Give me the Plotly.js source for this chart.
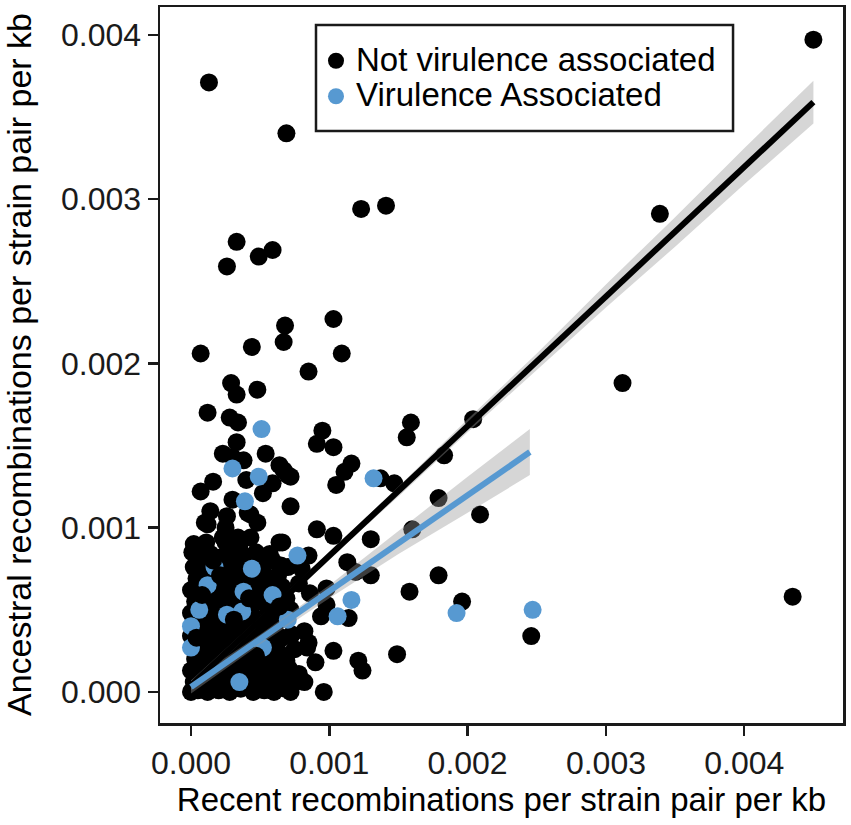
<!DOCTYPE html>
<html>
<head>
<meta charset="utf-8">
<script src="https://cdn.plot.ly/plotly-3.0.1.min.js"></script>
<style>
  html, body { margin: 0; padding: 0; background: #fff; }
  #graph { width: 851px; height: 825px; }
</style>
</head>
<body>
<div id="graph"></div>
<script>
// Points: [recent, ancestral] per strain pair per kb

// not virulence associated, scattered points
const notVirSparse = [
  [0.0045, 0.00397], [0.00013, 0.00371], [0.00069, 0.00340], [0.00123, 0.00294],
  [0.00141, 0.00296], [0.00033, 0.00274], [0.00059, 0.00269], [0.00049, 0.00265],
  [0.00026, 0.00259], [0.00103, 0.00227], [0.00068, 0.00223], [0.00067, 0.00213],
  [0.00007, 0.00206], [0.00044, 0.00210], [0.00109, 0.00206], [0.00085, 0.00195],
  [0.00029, 0.00188], [0.00048, 0.00184], [0.00339, 0.00291], [0.00312, 0.00188],
  [0.00435, 0.00058], [0.00246, 0.00034], [0.00196, 0.00055], [0.00209, 0.00108],
  [0.00204, 0.00166], [0.00183, 0.00144], [0.00179, 0.00071], [0.00158, 0.00061],
  [0.00149, 0.00023], [0.00159, 0.00164], [0.00156, 0.00155], [0.0016, 0.00099],
  [0.00095, 0.00159], [0.00091, 0.00151], [0.00103, 0.00149], [0.00116, 0.00139],
  [0.00111, 0.00134], [0.00105, 0.00126], [0.00137, 0.00130], [0.00147, 0.00127],
  [0.00179, 0.00118], [0.00072, 0.00113], [0.00067, 0.00135], [0.00072, 0.00131],
  [0.00091, 0.00099], [0.00103, 0.00095], [0.0013, 0.00093], [0.00085, 0.00083],
  [0.00113, 0.00079], [0.00119, 0.00073], [0.0013, 0.00071], [0.00098, 0.00063],
  [0.00098, 0.00053], [0.00094, 0.00046], [0.00114, 0.00045], [0.00103, 0.00025],
  [0.0009, 0.00018], [0.00121, 0.00019], [0.00124, 0.00013], [0.00082, 0.00006],
  [0.00096, 0.0], [0.00082, 0.00037], [0.00084, 0.00027], [0.00072, 0.0],
  [0.00033, 0.00181], [0.00012, 0.0017], [0.00028, 0.00167], [0.00034, 0.00164],
  [0.00033, 0.00152], [0.00054, 0.00145], [0.00023, 0.00145], [0.0003, 0.00143],
  [0.00038, 0.00141], [0.00064, 0.00138], [0.0007, 0.00132], [0.0004, 0.00129],
  [0.00059, 0.00127], [0.00016, 0.00128], [0.00007, 0.00122], [0.00052, 0.00121],
  [0.0003, 0.00117], [0.00014, 0.0011], [0.00026, 0.00107], [0.00041, 0.00109],
  [0.00048, 0.00103], [0.0001, 0.00103], [0.00064, 0.00091], [0.00023, 0.00094],
  [0.00043, 0.00094], [0.00001, 0.00085], [0.00009, 0.00088], [0.00012, 0.00102],
  [0.00025, 0.001], [0.00043, 0.00108], [0.00034, 0.00094], [0.00066, 0.00091],
  [0.00025, 0.00091], [0.00059, 0.0008], [0.0007, 0.00076], [0.0008, 0.00075],
  [0.00085, 0.0003], [0.00069, 0.00019], [0.00086, 0.0006], [0.00078, 0.00066]
];

// not virulence associated, the dense block near the origin
const notVirCluster = [
  [0, 0], [0.00005, 0.00001], [0.00012, 0], [0.0002, 0.00001], [0.00028, 0],
  [0.00036, 0.00002], [0.00045, 0], [0.00053, 0.00001], [0.0006, 0], [0.00068, 0.00002],
  [0.00002, 0.00006], [0.0001, 0.00007], [0.00018, 0.00005], [0.00027, 0.00007],
  [0.00041, 0.00006], [0.00049, 0.00008], [0.00058, 0.00005], [0.00066, 0.00007], [0.00074, 0.00005],
  [0, 0.00013], [0.00008, 0.00014], [0.00015, 0.00012], [0.00023, 0.00014], [0.00031, 0.00013],
  [0.00039, 0.00012], [0.00047, 0.00014], [0.00055, 0.00013], [0.00063, 0.00012],
  [0.00071, 0.00014], [0.00078, 0.00011],
  [0.00003, 0.0002], [0.00011, 0.00021], [0.00019, 0.00019], [0.00027, 0.0002],
  [0.00035, 0.00021], [0.00043, 0.00019], [0.00051, 0.00021], [0.0006, 0.0002], [0.00067, 0.00022],
  [0.00006, 0.00027], [0.00014, 0.00028], [0.00022, 0.00026], [0.0003, 0.00027],
  [0.00038, 0.00028], [0.00046, 0.00026], [0.00055, 0.00028], [0.00062, 0.00027], [0.00075, 0.00026],
  [0, 0.00034], [0.00009, 0.00035], [0.00017, 0.00033], [0.00025, 0.00034], [0.00033, 0.00035],
  [0.00041, 0.00033], [0.0005, 0.00034], [0.00058, 0.00035], [0.00066, 0.00033], [0.00073, 0.00035],
  [0.00004, 0.00041], [0.00012, 0.00042], [0.0002, 0.0004], [0.00029, 0.00041],
  [0.00037, 0.00042], [0.00045, 0.0004], [0.00053, 0.00042], [0.00061, 0.00041],
  [0, 0.00048], [0.00009, 0.00049], [0.00016, 0.00047], [0.00031, 0.00048],
  [0.00044, 0.00047], [0.00056, 0.00049], [0.00064, 0.00048], [0.00072, 0.0005],
  [0.00003, 0.00055], [0.00012, 0.00056], [0.0002, 0.00054], [0.00028, 0.00055],
  [0.00036, 0.00056], [0.00046, 0.00054], [0.00054, 0.00056], [0.00062, 0.00055], [0.00069, 0.00057],
  [0, 0.00062], [0.00008, 0.00063], [0.00017, 0.00061], [0.00026, 0.00062],
  [0.00033, 0.00063], [0.00042, 0.00061], [0.0005, 0.00063], [0.00058, 0.00062], [0.00066, 0.00064],
  [0.00004, 0.00069], [0.00013, 0.0007], [0.00021, 0.00068], [0.0003, 0.00069],
  [0.00039, 0.0007], [0.00047, 0.00068], [0.00055, 0.0007], [0.00063, 0.00071],
  [0.00002, 0.00076], [0.00009, 0.00077], [0.00024, 0.00075], [0.00033, 0.00077],
  [0.0004, 0.00076], [0.00052, 0.00078], [0.00065, 0.00077],
  [0.00005, 0.00083], [0.00014, 0.00084], [0.00022, 0.00082], [0.0003, 0.00084],
  [0.00038, 0.00083], [0.00047, 0.00085], [0.00057, 0.00084],
  [0.00002, 0.0009], [0.00011, 0.00091], [0.00027, 0.0009], [0.00035, 0.00089]
];

// virulence associated
const virPoints = [
  [0.00051, 0.0016], [0.0003, 0.00136], [0.00049, 0.00131], [0.00039, 0.00116],
  [0.00132, 0.0013], [0.00077, 0.00083], [0.00017, 0.00076], [0.00044, 0.00075],
  [0.00012, 0.00065], [0.00038, 0.00061], [0.00006, 0.0005], [0.00026, 0.00047],
  [0.00037, 0.00049], [0.0, 0.0004], [0.0007, 0.00044], [0.0, 0.00027],
  [0.00052, 0.00027], [0.00035, 0.00006], [0.00059, 0.00059], [0.00116, 0.00056],
  [0.00106, 0.00046], [0.00192, 0.00048], [0.00247, 0.0005]
];

// a few black points that sit on top of blue ones in the dense block
const notVirFront = [
  [0.00021, 0.00071], [0.00008, 0.00059], [0.00031, 0.00044], [0.00004, 0.00033],
  [0.00047, 0.00022], [0.00042, 0.00057], [0.00016, 0.0008], [0.00064, 0.00052]
];

// fitted lines and their confidence bands
const notVirFitX = [0, 0.0045];
const notVirFitY = [0.00004, 0.00359];
const notVirBandX = [0, 0.0005, 0.001, 0.0015, 0.002, 0.0025, 0.003, 0.0035, 0.004, 0.0045];
const notVirBandHi = [0.00007, 0.000455, 0.00085, 0.00125, 0.00166, 0.00206, 0.00248, 0.00289, 0.00331, 0.00372];
const notVirBandLo = [0.00001, 0.000415, 0.00081, 0.00119, 0.00158, 0.00196, 0.00234, 0.00271, 0.00309, 0.00346];

const virFitX = [0, 0.00245];
const virFitY = [0.00003, 0.00146];
const virBandX = [0, 0.0005, 0.001, 0.0015, 0.002, 0.00245];
const virBandHi = [0.00007, 0.00035, 0.00065, 0.00098, 0.00131, 0.0016];
const virBandLo = [-0.00001, 0.00029, 0.00057, 0.00084, 0.00109, 0.00132];

const tickVals = [0, 0.001, 0.002, 0.003, 0.004];
const tickText = ['0.000', '0.001', '0.002', '0.003', '0.004'];

const BLACK = '#000000';
const BLUE = '#5799d1';
const BAND = 'rgba(153,153,153,0.4)';
const FONT = 'Liberation Sans, Arial, Helvetica, sans-serif';

const notVir = notVirCluster.concat(notVirSparse);

function band(xs, hi, lo) {
    // closed polygon: upper edge left to right, lower edge back
    return {
        x: xs.concat(xs.slice().reverse()),
        y: hi.concat(lo.slice().reverse()),
        mode: 'lines',
        type: 'scatter',
        fill: 'toself',
        fillcolor: BAND,
        line: {width: 0},
        hoverinfo: 'skip',
        showlegend: false
    };
}

// bigger legend text without the tall rows plotly gives a big legend font
function legendName(s) {
    return '<span style="font-size:33px">' + s + '</span>';
}

var data = [
    {
        x: notVir.map(p => p[0]),
        y: notVir.map(p => p[1]),
        mode: 'markers',
        type: 'scatter',
        name: legendName('Not virulence associated'),
        legendgroup: 'nv',
        marker: {color: BLACK, size: 18, line: {width: 0}}
    },
    {
        x: virPoints.map(p => p[0]),
        y: virPoints.map(p => p[1]),
        mode: 'markers',
        type: 'scatter',
        name: legendName('Virulence Associated'),
        marker: {color: BLUE, size: 18, line: {width: 0}}
    },
    {
        x: notVirFront.map(p => p[0]),
        y: notVirFront.map(p => p[1]),
        mode: 'markers',
        type: 'scatter',
        legendgroup: 'nv',
        showlegend: false,
        marker: {color: BLACK, size: 18, line: {width: 0}}
    },
    band(notVirBandX, notVirBandHi, notVirBandLo),
    band(virBandX, virBandHi, virBandLo),
    {
        x: notVirFitX, y: notVirFitY, mode: 'lines', type: 'scatter',
        line: {color: BLACK, width: 6}, showlegend: false, hoverinfo: 'skip'
    },
    {
        x: virFitX, y: virFitY, mode: 'lines', type: 'scatter',
        line: {color: BLUE, width: 6}, showlegend: false, hoverinfo: 'skip'
    }
];

const axisCommon = {
    showgrid: false,
    zeroline: false,
    showline: true,
    mirror: true,
    linecolor: '#1a1a1a',
    linewidth: 2.5,
    ticks: 'outside',
    ticklen: 10,
    tickwidth: 2.5,
    tickcolor: '#1a1a1a',
    tickvals: tickVals,
    ticktext: tickText,
    tickfont: {family: FONT, size: 32, color: '#1a1a1a'}
};

var layout = {
    width: 851,
    height: 825,
    paper_bgcolor: '#fff',
    plot_bgcolor: '#fff',
    margin: {l: 160, r: 8, t: 7, b: 102},
    showlegend: true,
    xaxis: Object.assign({}, axisCommon, {
        range: [-0.000224, 0.004714],
        title: {text: 'Recent recombinations per strain pair per kb', font: {family: FONT, size: 33, color: '#000'}, standoff: 6}
    }),
    yaxis: Object.assign({}, axisCommon, {
        range: [-0.000189, 0.004169]
    }),
    annotations: [{
        text: 'Ancestral recombinations per strain pair per kb',
        xref: 'paper', yref: 'paper',
        x: -0.2064, y: 0.5,
        xanchor: 'center', yanchor: 'middle',
        textangle: -90,
        showarrow: false,
        font: {family: FONT, size: 34, color: '#000'}
    }],
    // legend frame, drawn separately so its padding can match the figure
    shapes: [{
        type: 'rect', xref: 'paper', yref: 'paper', layer: 'above',
        x0: 0.2284, x1: 0.839, y0: 0.8268, y1: 0.9749,
        fillcolor: '#fff',
        line: {color: '#1a1a1a', width: 2.5}
    }],
    legend: {
        x: 0.2284, y: 0.9567, xanchor: 'left', yanchor: 'top',
        bgcolor: 'rgba(0,0,0,0)',
        borderwidth: 0,
        font: {family: FONT, size: 25, color: '#000'},
        tracegroupgap: 0
    }
};

Plotly.newPlot('graph', data, layout, {displayModeBar: false, staticPlot: true});
</script>
</body>
</html>
